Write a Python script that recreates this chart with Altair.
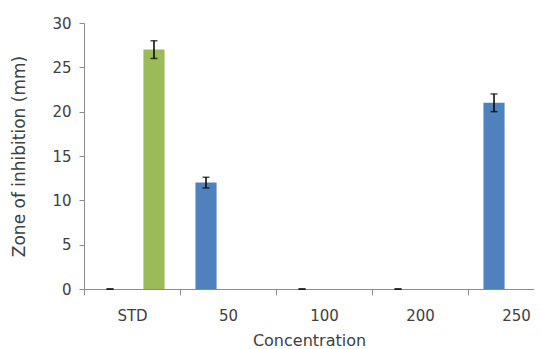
import json
import altair as alt
import pandas as pd

categories = ["STD", "50", "100", "200", "250"]
series_names = ["Series A", "Series B"]
series_a = [0, 12, 0, 0, 21]
series_a_err = [0, 0.6, 0, 0, 1.0]
series_b = [27, None, None, None, None]
series_b_err = [1.0, None, None, None, None]
colors = ["#4F81BD", "#9BBB59"]
y_ticks = [0, 5, 10, 15, 20, 25, 30]

rows = []
for s, (vals, errs) in enumerate([(series_a, series_a_err), (series_b, series_b_err)]):
    for i, (v, e) in enumerate(zip(vals, errs)):
        if v is None:
            continue
        rows.append({"cat": categories[i], "idx": i, "series": series_names[s], "sidx": s,
                     "value": v, "lo": v - e, "hi": v + e})
df = pd.DataFrame(rows)

FONT = "DejaVu Sans"
TXT = "#404040"
AX = "#8C8C8C"

cat_js = json.dumps(categories).replace('"', "'")

base = alt.Chart(df).transform_calculate(
    pos="datum.idx + (datum.sidx == 0 ? -0.229 : 0.229)",
    left="datum.pos - 0.11",
    right="datum.pos + 0.11",
)

xscale = alt.Scale(domain=[-0.5, 4.1875], nice=False, zero=False, padding=0)
xaxis = alt.Axis(
    values=[-0.5, 0, 0.5, 1, 1.5, 2, 2.5, 3, 3.5, 4],
    labelExpr=f"datum.value % 1 == 0 ? {cat_js}[datum.value] : ''",
    tickOpacity=alt.ExprRef("datum.value % 1 == 0 ? 0 : 1"),
    tickSize=6, tickColor=AX, domainColor=AX, grid=False,
    labelFont=FONT, labelFontSize=15, labelColor=TXT, labelPadding=13,
    title="Concentration", titleFont=FONT, titleFontSize=16, titleColor=TXT,
    titleFontWeight="normal", titlePadding=9, labelFlush=False, labelOverlap=False,
)
yscale = alt.Scale(domain=[0, 30], nice=False, padding=0)
yaxis = alt.Axis(
    values=y_ticks, tickSize=5, tickColor=AX, domainColor=AX, grid=False,
    labelFont=FONT, labelFontSize=15, labelColor=TXT, labelPadding=8,
    title="Zone of inhibition (mm)", titleFont=FONT, titleFontSize=17, titleColor=TXT,
    titleFontWeight="normal", titlePadding=23,
)

bars = base.mark_bar().encode(
    x=alt.X("left:Q", scale=xscale, axis=xaxis),
    x2="right:Q",
    y=alt.Y("value:Q", scale=yscale, axis=yaxis),
    y2=alt.datum(0),
    color=alt.Color("series:N", scale=alt.Scale(domain=series_names, range=colors), legend=None),
)
err = base.mark_rule(color="black", strokeWidth=1.5).encode(
    x=alt.X("pos:Q", scale=xscale),
    y=alt.Y("lo:Q", scale=yscale),
    y2="hi:Q",
)
cap_lo = base.mark_tick(color="black", orient="horizontal", size=7, thickness=1.5).encode(
    x=alt.X("pos:Q", scale=xscale),
    y=alt.Y("lo:Q", scale=yscale),
)
cap_hi = base.mark_tick(color="black", orient="horizontal", size=7, thickness=1.5).encode(
    x=alt.X("pos:Q", scale=xscale),
    y=alt.Y("hi:Q", scale=yscale),
)

chart = alt.layer(bars, err, cap_lo, cap_hi).properties(
    width=450, height=266,
    autosize=alt.AutoSizeParams(type="none"),
    padding={"left": 76, "top": 15, "right": 0, "bottom": 60},
).configure_view(stroke=None)

chart.save("out.html", embed_options={"renderer": "svg", "actions": False})
